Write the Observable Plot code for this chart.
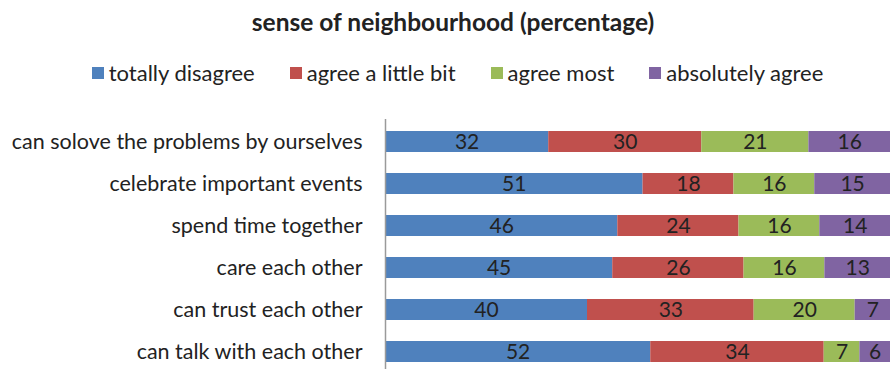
<!DOCTYPE html>
<html>
<head>
<meta charset="utf-8">
<script src="https://cdn.jsdelivr.net/npm/d3@7"></script>
<script src="https://cdn.jsdelivr.net/npm/@observablehq/plot@0.6"></script>
<style>
  html, body { margin: 0; padding: 0; background: #fff; }
  body { width: 891px; height: 369px; overflow: hidden; position: relative; font-family: Lato, "Open Sans", sans-serif; color: #222; }
  #title { position: absolute; left: 0; width: 906px; top: 8px; text-align: center; font-weight: bold; font-size: 24.5px; line-height: 28px; }
  #legend { position: absolute; left: 0; width: 915px; top: 61px; display: flex; justify-content: center; gap: 35px; font-size: 22px; line-height: 24px; }
  .item { display: flex; align-items: center; }
  .sw { width: 12px; height: 12px; margin-right: 5px; }
  #chart { position: absolute; left: 0; top: 100px; }
</style>
</head>
<body>
<div id="title">sense of neighbourhood (percentage)</div>
<div id="legend"></div>
<div id="chart"></div>
<script>
const categories = [
  "can solove the problems by ourselves",
  "celebrate important events",
  "spend time together",
  "care each other",
  "can trust each other",
  "can talk with each other"
];
const series = ["totally disagree", "agree a little bit", "agree most", "absolutely agree"];
const colors = ["#4F81BD", "#C0504D", "#9BBB59", "#8064A2"];
const totallyDisagree = [32, 51, 46, 45, 40, 52];
const agreeALittleBit = [30, 18, 24, 26, 33, 34];
const agreeMost = [21, 16, 16, 16, 20, 7];
const absolutelyAgree = [16, 15, 14, 13, 7, 6];

const seriesValues = [totallyDisagree, agreeALittleBit, agreeMost, absolutelyAgree];
const data = [];
categories.forEach((c, i) => {
  series.forEach((s, j) => data.push({category: c, series: s, value: seriesValues[j][i]}));
});

const legend = document.getElementById("legend");
series.forEach((s, j) => {
  const it = document.createElement("div");
  it.className = "item";
  const sw = document.createElement("span");
  sw.className = "sw";
  sw.style.background = colors[j];
  const t = document.createElement("span");
  t.textContent = s;
  it.appendChild(sw); it.appendChild(t);
  legend.appendChild(it);
});

const stackOpts = {x: "value", y: "category", z: "series", order: series, offset: "normalize"};

const plot = Plot.plot({
  width: 891,
  height: 274,
  marginLeft: 385,
  marginRight: 1,
  marginTop: 19,
  marginBottom: 1,
  style: {fontFamily: "Lato, 'Open Sans', sans-serif", fontSize: "21.5px", color: "#222", background: "#fff"},
  x: {domain: [0, 1], axis: null},
  y: {domain: categories, padding: 0.5, paddingOuter: 0.25, label: null},
  color: {domain: series, range: colors},
  marks: [
    Plot.axisY({tickSize: 0, tickPadding: 23, fontSize: 21.5, label: null, fill: "#222"}),
    Plot.barX(data, Plot.stackX({...stackOpts, fill: "series"})),
    Plot.textX(data, Plot.stackX({...stackOpts, text: "value", fill: "#222", fontSize: 21})),
    Plot.ruleX([0], {stroke: "#9a9a9a", strokeWidth: 1.5})
  ]
});
document.getElementById("chart").appendChild(plot);
</script>
</body>
</html>
